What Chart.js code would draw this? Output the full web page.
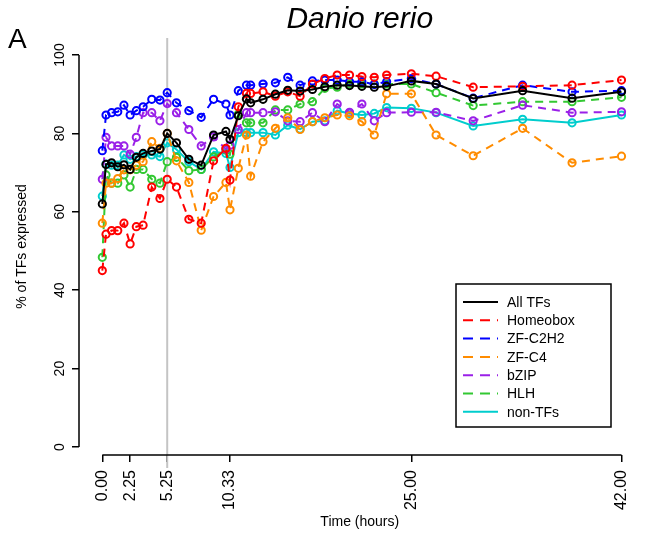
<!DOCTYPE html>
<html><head><meta charset="utf-8">
<script src="https://cdn.jsdelivr.net/npm/chart.js@4.4.1/dist/chart.umd.min.js"></script>
<style>html,body{margin:0;padding:0;background:#fff}#wrap{width:649px;height:539px;position:relative}</style>
</head><body><div id="wrap"><canvas id="c" width="649" height="539"></canvas></div>
<script>
// ---- data ----
const TIMES = [0, 0.3, 0.75, 1.25, 1.75, 2.25, 2.75, 3.3, 4, 4.66, 5.25, 6, 7, 8, 9, 10, 10.33,
  11, 11.66, 12, 13, 14, 15, 16, 17, 18, 19, 20, 21, 22, 23, 25, 27, 30, 34, 38, 42];
const ALL_TFS  = [62.0, 72.1, 72.5, 71.5, 72.0, 70.8, 73.9, 74.9, 75.5, 76.0, 80.0, 77.6, 73.4, 71.9, 79.6, 80.5, 78.5,
  84.5, 88.8, 87.8, 88.7, 90.0, 91.0, 90.8, 91.2, 91.9, 92.3, 92.2, 92.0, 91.8, 92.0, 93.4, 92.6, 88.9, 90.9, 89.0, 90.6];
const HOMEOBOX = [45.0, 54.3, 55.2, 55.2, 57.1, 51.8, 56.2, 56.6, 66.3, 63.4, 68.3, 66.3, 58.1, 57.1, 73.0, 76.2, 68.1,
  86.8, 90.2, 90.2, 90.6, 89.5, 90.6, 89.5, 92.6, 94.0, 94.9, 94.9, 94.5, 94.3, 94.9, 95.2, 94.6, 91.8, 92.0, 92.3, 93.6];
const ZF_C2H2  = [75.6, 84.7, 85.3, 85.5, 87.2, 84.7, 85.8, 86.8, 88.7, 88.5, 90.4, 87.8, 85.8, 84.1, 88.7, 87.5, 84.7,
  90.9, 92.3, 92.3, 92.6, 92.9, 94.3, 92.3, 93.4, 93.6, 93.6, 93.2, 93.2, 92.5, 93.2, 94.0, 92.6, 89.0, 92.3, 90.6, 90.9];
const ZF_C4    = [57.1, 67.3, 67.3, 68.5, 70.7, 70.7, 71.9, 72.8, 77.9, 76.2, 80.0, 73.0, 67.5, 55.3, 63.9, 67.5, 60.5,
  71.1, 79.6, 69.1, 77.9, 81.3, 84.0, 81.0, 83.0, 84.0, 84.7, 84.5, 83.0, 79.6, 90.1, 90.1, 79.6, 74.3, 81.3, 72.5, 74.2];
const BZIP     = [68.3, 79.0, 76.8, 76.8, 76.8, 74.7, 79.0, 85.3, 85.3, 83.2, 87.6, 85.3, 81.0, 76.8, 79.1, 76.0, 77.0,
  81.0, 85.3, 85.3, 85.3, 85.5, 83.2, 83.0, 85.3, 83.0, 87.5, 85.4, 87.5, 83.2, 85.3, 85.4, 85.4, 83.2, 87.2, 85.3, 85.5];
const HLH      = [48.4, 69.4, 67.3, 67.3, 69.4, 66.3, 70.8, 70.8, 68.3, 67.3, 72.8, 73.9, 70.5, 70.8, 74.0, 75.8, 74.7,
  84.9, 82.7, 82.7, 82.7, 86.0, 86.0, 87.5, 88.1, 91.5, 91.8, 92.6, 92.6, 92.6, 92.6, 92.6, 90.4, 87.1, 88.1, 88.1, 89.2];
const NON_TFS  = [64.0, 72.2, 71.9, 71.9, 74.5, 73.4, 74.1, 74.5, 74.5, 74.1, 77.6, 75.9, 72.8, 70.8, 75.3, 74.9, 71.3,
  80.2, 80.2, 80.2, 80.2, 79.6, 82.1, 81.1, 83.0, 83.2, 85.8, 85.1, 84.7, 85.1, 86.6, 86.4, 85.3, 81.9, 83.6, 82.7, 84.7];
const SERIES_NAMES = ['All TFs', 'Homeobox', 'ZF-C2H2', 'ZF-C4', 'bZIP', 'HLH', 'non-TFs'];
const X_TICKS = [0, 2.25, 5.25, 10.33, 25, 42];
const Y_TICKS = [0, 20, 40, 60, 80, 100];
const MARKER_TIME = 5.25;

// ---- styles ----
const FONT = 'Liberation Sans, Arial, sans-serif';
const COLORS = ['#000000', '#ff0000', '#0000ff', '#ff8c00', '#9a20e8', '#32c832', '#00cdcd'];
const DASHED = [false, true, true, true, true, true, false];
const VALUES = [ALL_TFS, HOMEOBOX, ZF_C2H2, ZF_C4, BZIP, HLH, NON_TFS];

const datasets = SERIES_NAMES.map((name, i) => ({
  label: name,
  data: TIMES.map((t, j) => ({x: t, y: VALUES[i][j]})),
  borderColor: COLORS[i],
  pointBorderColor: COLORS[i],
  pointBackgroundColor: 'rgba(0,0,0,0)',
  borderWidth: 2,
  borderDash: DASHED[i] ? [8, 6] : [],
  pointRadius: 3.6,
  pointBorderWidth: 2,
  tension: 0,
  fill: false
}));

const rStyle = {
  id: 'rStyle',
  beforeDatasetsDraw(chart) {
    const {ctx, chartArea, scales: {x}} = chart;
    const px = x.getPixelForValue(MARKER_TIME);
    ctx.save();
    ctx.strokeStyle = '#c4c4c4'; ctx.lineWidth = 2;
    ctx.beginPath(); ctx.moveTo(px, chartArea.top); ctx.lineTo(px, chartArea.bottom + 13); ctx.stroke();
    ctx.restore();
  },
  afterDraw(chart) {
    const {ctx, chartArea, scales: {x, y}} = chart;
    ctx.save();
    ctx.strokeStyle = '#000'; ctx.lineWidth = 1.5;
    // R style axis lines spanning first..last tick
    ctx.beginPath();
    ctx.moveTo(chartArea.left, y.getPixelForValue(Y_TICKS[0]));
    ctx.lineTo(chartArea.left, y.getPixelForValue(Y_TICKS[Y_TICKS.length - 1]));
    ctx.moveTo(x.getPixelForValue(X_TICKS[0]), chartArea.bottom);
    ctx.lineTo(x.getPixelForValue(X_TICKS[X_TICKS.length - 1]), chartArea.bottom);
    ctx.stroke();
    // panel letter
    ctx.fillStyle = '#000';
    ctx.font = '28px ' + FONT;
    ctx.textAlign = 'left'; ctx.textBaseline = 'middle';
    ctx.fillText('A', 8, 40);
    // legend box
    const bx = 456, by = 284, bw = 155, bh = 143;
    ctx.lineWidth = 1.5;
    ctx.strokeRect(bx, by, bw, bh);
    ctx.font = '14px ' + FONT;
    chart.data.datasets.forEach((ds, i) => {
      const ly = by + 18 + i * 18.3;
      ctx.strokeStyle = ds.borderColor; ctx.lineWidth = 2;
      ctx.setLineDash(ds.borderDash && ds.borderDash.length ? [10, 7] : []);
      ctx.beginPath(); ctx.moveTo(bx + 7, ly); ctx.lineTo(bx + 42, ly); ctx.stroke();
      ctx.setLineDash([]);
      ctx.fillStyle = '#000';
      ctx.fillText(ds.label, bx + 51, ly + 1);
    });
    ctx.restore();
  }
};

new Chart(document.getElementById('c'), {
  type: 'line',
  data: {datasets},
  options: {
    responsive: false,
    animation: false,
    devicePixelRatio: 1,
    layout: {padding: {left: 0, right: 4, top: 0, bottom: 0}},
    plugins: {
      legend: {display: false},
      tooltip: {enabled: false},
      title: {
        display: true, text: 'Danio rerio', fullSize: false, color: '#000',
        font: {family: FONT, size: 30, style: 'italic', weight: 'normal', lineHeight: 1.2},
        padding: {top: 2, bottom: 0}
      }
    },
    scales: {
      x: {
        type: 'linear', min: -1.886, max: 43.54,
        afterBuildTicks: s => { s.ticks = X_TICKS.map(v => ({value: v})); },
        afterFit: s => { s.height = 84; },
        ticks: {
          autoSkip: false, minRotation: 90, maxRotation: 90, padding: 8, color: '#000',
          font: {family: FONT, size: 16},
          callback: v => Number(v).toFixed(2)
        },
        grid: {display: true, drawOnChartArea: false, drawTicks: true, tickLength: 7, color: '#000', lineWidth: 1.5},
        border: {display: false},
        title: {display: true, text: 'Time (hours)', color: '#000', font: {family: FONT, size: 14}, padding: {top: 0, bottom: 8}}
      },
      y: {
        type: 'linear', min: -2.04, max: 104.34,
        afterBuildTicks: s => { s.ticks = Y_TICKS.map(v => ({value: v})); },
        afterFit: s => { s.width = 79; },
        ticks: {
          autoSkip: false, minRotation: 90, maxRotation: 90, crossAlign: 'center', padding: 0, color: '#000',
          font: {family: FONT, size: 14}
        },
        grid: {display: true, drawOnChartArea: false, drawTicks: true, tickLength: 7, color: '#000', lineWidth: 1.5},
        border: {display: false},
        title: {display: true, text: '% of TFs expressed', color: '#000', font: {family: FONT, size: 14}, padding: {top: 14, bottom: 0}}
      }
    }
  },
  plugins: [rStyle]
});
</script></body></html>
